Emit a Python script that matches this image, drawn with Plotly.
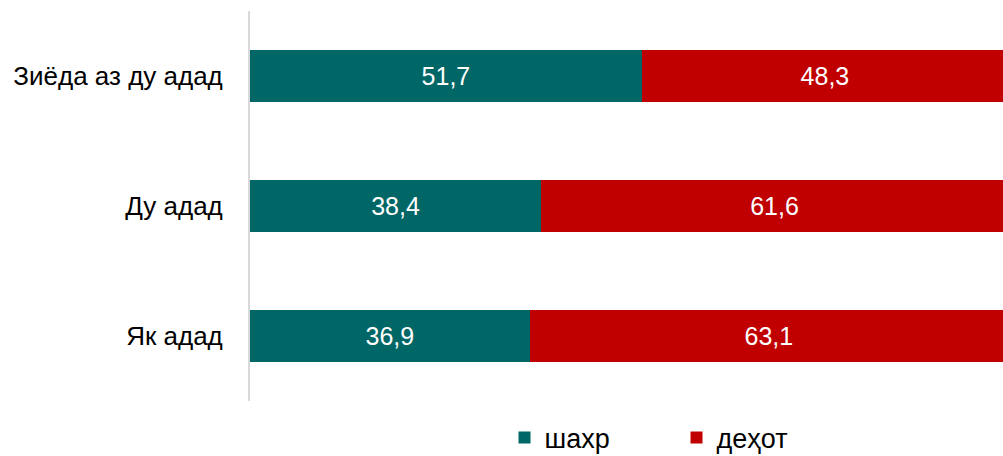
import plotly.graph_objects as go

# категорияҳо (аз боло ба поён)
categories = ["Зиёда аз ду адад", "Ду адад", "Як адад"]
shahr = [51.7, 38.4, 36.9]
dehot = [48.3, 61.6, 63.1]

FONT = "Liberation Sans Narrow, Arial Narrow, Liberation Sans, sans-serif"

def fmt(v):
    return f"{v:.1f}".replace(".", ",")

fig = go.Figure()
fig.add_trace(go.Bar(y=categories, x=shahr, name="шахр", orientation="h",
                     marker=dict(color="#006666", line=dict(width=0)),
                     text=[fmt(v) for v in shahr], textposition="inside",
                     insidetextanchor="middle",
                     textfont=dict(color="white", size=25, family=FONT)))
fig.add_trace(go.Bar(y=categories, x=dehot, name="деҳот", orientation="h",
                     marker=dict(color="#C00000", line=dict(width=0)),
                     text=[fmt(v) for v in dehot], textposition="inside",
                     insidetextanchor="middle",
                     textfont=dict(color="white", size=25, family=FONT)))

fig.update_layout(
    barmode="stack", bargap=0.6,
    width=1003, height=456,
    margin=dict(l=250, r=0, t=11, b=55, autoexpand=False),
    plot_bgcolor="white", paper_bgcolor="white",
    font=dict(family=FONT, size=26, color="black"),
    uniformtext=dict(mode="show", minsize=10),
    legend=dict(orientation="h", x=0.338, xanchor="left", y=-0.095, yanchor="middle",
                font=dict(size=27), entrywidth=127, traceorder="normal"),
)
fig.update_xaxes(range=[0, 99.34], showgrid=False, showticklabels=False, zeroline=False,
                 showline=False)
fig.update_yaxes(categoryorder="array", categoryarray=categories[::-1],
                 showline=True, linecolor="#D9D9D9", linewidth=2,
                 ticks="", ticklabelstandoff=20, showgrid=False)

fig.write_html("out.html", config={"displayModeBar": False},
               post_script="document.body.style.margin='0';document.body.style.overflow='hidden';")
